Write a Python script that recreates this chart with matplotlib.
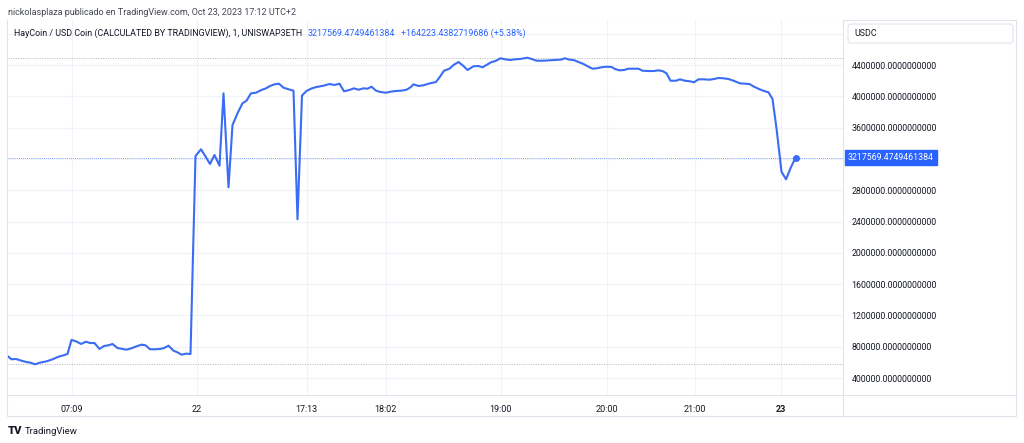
import matplotlib
matplotlib.use("Agg")
import matplotlib.pyplot as plt
from matplotlib.patches import Rectangle, FancyBboxPatch
from matplotlib.lines import Line2D
import matplotlib.transforms as mtransforms

# ---------------- data ----------------
bars = [0.1, 0.9, 1.8, 2.9, 3.9, 4.7, 5.6, 6.6, 7.9, 9.1, 10.3, 11.3, 12.1, 12.9, 13.8, 14.8, 15.8, 16.6,
        17.5, 18.5, 19.4, 20.3, 21.1, 22.1, 22.9, 23.9, 24.9, 25.9, 26.9, 27.7, 28.6, 29.6, 30.6, 31.4,
        32.3, 33.3, 34.1, 34.9, 35.8, 36.7, 37.7, 38.8, 39.8, 40.6, 41.5, 42.5, 43.3, 44.3, 45.1, 46.1,
        47.1, 47.9, 48.8, 49.8, 50.9, 51.8, 52.6, 53.5, 54.4, 55.3, 56.3, 57.3, 58.1, 59.0, 59.9, 60.9,
        61.9, 63.3, 64.5, 65.5, 66.5, 67.4, 68.5, 69.4, 70.3, 71.3, 72.1, 72.9, 73.8, 74.7, 75.8, 76.7,
        77.8, 78.9, 79.9, 80.7, 81.3, 82.3, 83.3, 84.6, 85.8, 86.6, 87.4, 88.5, 89.3, 90.3, 91.3, 92.1,
        93.3, 94.3, 95.1, 96.1, 96.9, 97.7, 98.7, 99.6, 100.6, 101.6, 102.6, 104.1, 104.9, 105.9, 107.3,
        108.6, 109.9, 110.9, 111.6, 112.5, 113.3, 114.3, 115.3, 116.3, 117.1, 117.9, 118.9, 119.9, 120.9,
        121.6, 122.5, 123.4, 124.3, 125.3, 126.3, 127.1, 128.3, 129.3, 130.3, 131.1, 131.9, 132.7, 133.8,
        134.6, 135.6, 136.6, 137.4, 138.3, 139.4, 140.5, 141.4, 142.3, 143.3, 144.3, 145.3, 146.6, 147.6,
        148.5, 149.4, 150.5, 151.4, 152.3, 153.1, 153.9, 154.9, 155.8, 156.7, 157.7]
prices = [681000, 639000, 643000, 621000, 604000, 596000, 575000, 596000, 613000, 639000, 672000, 690000,
          707000, 886000, 869000, 835000, 864000, 847000, 847000, 771000, 809000, 818000, 835000, 783000,
          774000, 762000, 780000, 805000, 826000, 818000, 767000, 767000, 771000, 783000, 813000, 749000,
          728000, 698000, 711000, 707000, 3237000, 3323000, 3221000, 3135000, 3250000, 3113000, 4038000,
          2837000, 3633000, 3783000, 3911000, 3944000, 4038000, 4046000, 4081000, 4102000, 4132000, 4153000,
          4161000, 4110000, 4090000, 4072000, 2428000, 4010000, 4068000, 4100000, 4119000, 4136000, 4157000,
          4145000, 4161000, 4064000, 4081000, 4102000, 4084000, 4102000, 4097000, 4123000, 4072000, 4055000,
          4046000, 4059000, 4068000, 4072000, 4084000, 4115000, 4153000, 4132000, 4141000, 4166000, 4183000,
          4251000, 4327000, 4353000, 4400000, 4438000, 4387000, 4336000, 4384000, 4387000, 4371000, 4409000,
          4438000, 4451000, 4486000, 4473000, 4464000, 4473000, 4477000, 4493000, 4477000, 4455000, 4455000,
          4460000, 4464000, 4470000, 4486000, 4468000, 4464000, 4438000, 4413000, 4378000, 4353000, 4358000,
          4371000, 4378000, 4375000, 4349000, 4332000, 4336000, 4353000, 4353000, 4353000, 4327000, 4323000,
          4323000, 4332000, 4323000, 4294000, 4199000, 4199000, 4217000, 4199000, 4192000, 4179000, 4217000,
          4217000, 4212000, 4221000, 4234000, 4230000, 4221000, 4199000, 4166000, 4161000, 4157000, 4123000,
          4090000, 4068000, 4051000, 3966000, 3591000, 3037000, 2939000, 3080000, 3217569.4749461384]

time_tick_pos = [12.9, 37.9, 59.9, 75.7, 98.7, 119.9, 137.5, 154.8]
time_tick_labels = ["07:09", "22", "17:13", "18:02", "19:00", "20:00", "21:00", "23"]
time_tick_bold = [False, False, False, False, False, False, False, True]

price_ticks = [400000, 800000, 1200000, 1600000, 2000000, 2400000, 2800000, 3200000,
               3600000, 4000000, 4400000, 4800000]
price_hidden = [3200000, 4800000]

last_price = prices[-1]
change_text = "+164223.4382719686 (+5.38%)"
title_text = "HayCoin / USD Coin (CALCULATED BY TRADINGVIEW), 1, UNISWAP3ETH"
header_text = "nickolasplaza publicado en TradingView.com, Oct 23, 2023 17:12 UTC+2"
currency = "USDC"

# ---------------- style ----------------
W, H = 1024, 443
BLUE = "#2962ff"
LINE = "#3a6cf4"
GRID = "#f0f3fa"
BORDER = "#e0e3eb"
TXT = "#131722"
FONT = "Roboto"
plt.rcParams["font.family"] = [FONT, "DejaVu Sans"]

fig = plt.figure(figsize=(W / 100, H / 100), dpi=100)
fig.patch.set_facecolor("white")

def fx(px):
    return px / W

def fy(py):
    return 1 - py / H

# main axes: px x 8..843, y 20..395
ax = fig.add_axes([fx(8), fy(395), fx(843) - fx(8), fy(20) - fy(395)])
ax.set_facecolor("white")
ax.set_xlim(0.2, 167.2)
ax.set_ylim(182740, 4975240)

for s in ax.spines.values():
    s.set_visible(False)

ax.set_yticks(price_ticks)
ax.set_yticklabels(["" if v in price_hidden else f"{v:.10f}" for v in price_ticks])
ax.yaxis.tick_right()
ax.tick_params(axis="y", length=0, pad=6, labelsize=6.3, labelcolor=TXT)
ax.set_xticks(time_tick_pos)
ax.set_xticklabels(time_tick_labels)
ax.tick_params(axis="x", length=0, pad=7, labelsize=6.5, labelcolor=TXT)
for lbl, b in zip(ax.get_xticklabels(), time_tick_bold):
    if b:
        lbl.set_fontweight("bold")
ax.grid(True, color=GRID, linewidth=0.8)
ax.set_axisbelow(True)

# high / low dotted lines
ax.axhline(max(prices), color="#b2b5be", linestyle=(0, (1, 1.5)), linewidth=0.7)
ax.axhline(min(prices), color="#b2b5be", linestyle=(0, (1, 1.5)), linewidth=0.7)
# last price line
ax.axhline(last_price, color=BLUE, linestyle=(0, (1, 1.5)), linewidth=0.6, alpha=0.8)

ax.plot(bars, prices, color=LINE, linewidth=1.5, solid_joinstyle="round", zorder=5)
ax.plot([bars[-1]], [last_price], "o", color=LINE, markersize=4, zorder=6)

# last price label on the price scale
trans = mtransforms.blended_transform_factory(fig.transFigure, ax.transData)
ax.text(fx(848), last_price, f"{last_price:.10f}", transform=trans, fontsize=6.3,
        color="white", va="center", ha="left", clip_on=False,
        bbox=dict(boxstyle="square,pad=0.3", facecolor=BLUE, edgecolor=BLUE))

# ---------------- overlay decorations ----------------
ov = fig.add_axes([0, 0, 1, 1], zorder=-1)
ov.set_xlim(0, W)
ov.set_ylim(H, 0)
ov.axis("off")
ov.patch.set_alpha(0)

ov.add_patch(Rectangle((7, 20), 1009, 396, fill=False, edgecolor=BORDER, linewidth=0.8))
ov.add_line(Line2D([843, 843], [20, 416], color=BORDER, linewidth=0.8))
ov.add_line(Line2D([7, 1016], [395, 395], color=BORDER, linewidth=0.8))

# text overlay on top
top = fig.add_axes([0, 0, 1, 1], zorder=10)
top.set_xlim(0, W)
top.set_ylim(H, 0)
top.axis("off")
top.patch.set_alpha(0)

top.text(8, 12, header_text, fontsize=6.5, color="#434651", va="center", ha="left")
t1 = top.text(14, 33, title_text, fontsize=6.4, color=TXT, va="center", ha="left")
t2 = top.annotate(f"{last_price:.10f}", xy=(1, 0.5), xycoords=t1, xytext=(4, 0),
                  textcoords="offset points", fontsize=6.4, color=BLUE, va="center", ha="left")
top.annotate(change_text, xy=(1, 0.5), xycoords=t2, xytext=(4, 0),
             textcoords="offset points", fontsize=6.4, color=BLUE, va="center", ha="left")

top.add_patch(FancyBboxPatch((848, 24), 165, 19, boxstyle="round,pad=0,rounding_size=3",
                             facecolor="white", edgecolor=BORDER, linewidth=0.8))
top.text(854, 33.5, currency, fontsize=6.4, color=TXT, va="center", ha="left")

# TradingView logo
top.text(8, 431, "TV", fontsize=8, fontweight="heavy", color=TXT, va="center", ha="left")
top.text(25, 431, "TradingView", fontsize=6.8, color=TXT, va="center", ha="left")

fig.savefig("out.png", dpi=100, facecolor="white")
